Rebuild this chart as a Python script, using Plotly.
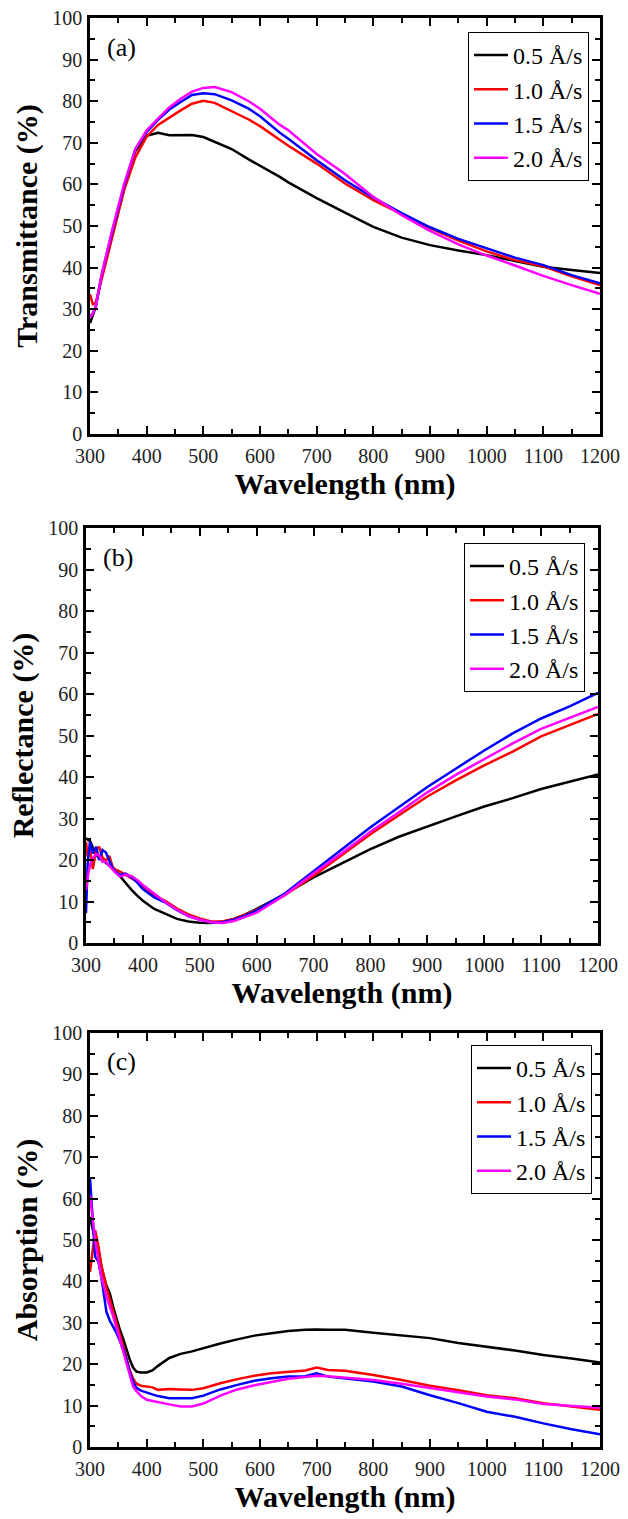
import plotly.graph_objects as go

# ---------------- data ----------------
rates = ["0.5 Å/s", "1.0 Å/s", "1.5 Å/s", "2.0 Å/s"]
colors = ["#000000", "#FF0000", "#0000FF", "#FF00FF"]

# (a) Transmittance
wl_t = [300, 305, 310, 320, 340, 360, 380, 400, 420, 440, 460, 480, 500, 520, 550,
        580, 600, 635, 650, 700, 750, 800, 850, 900, 950, 1000, 1050, 1100, 1150, 1200]
trans_05 = [26.6, 28.5, 30.5, 37.5, 49.0, 59.0, 68.0, 71.7, 72.4, 71.8, 71.8, 71.9, 71.4, 70.3, 68.5,
            66.0, 64.5, 61.8, 60.5, 56.7, 53.2, 49.8, 47.2, 45.4, 44.1, 43.0, 41.6, 40.2, 39.4, 38.7]
trans_10 = [33.6, 31.2, 31.5, 37.0, 48.0, 58.5, 66.5, 71.5, 74.3, 76.1, 77.8, 79.4, 80.1, 79.6, 77.6,
            75.6, 74.0, 70.8, 69.3, 65.0, 60.2, 56.2, 52.9, 49.5, 46.5, 43.9, 41.8, 40.3, 37.9, 35.8]
trans_15 = [28.2, 29.0, 30.5, 38.0, 49.0, 59.5, 68.5, 72.6, 75.5, 78.0, 79.8, 81.5, 81.9, 81.7, 80.2,
            78.2, 76.4, 72.4, 71.0, 65.8, 61.0, 56.8, 53.1, 49.7, 46.9, 44.6, 42.4, 40.6, 38.2, 36.2]
trans_20 = [28.0, 29.0, 30.5, 38.0, 49.5, 60.0, 68.5, 73.0, 75.8, 78.5, 80.6, 82.3, 83.2, 83.4, 82.2,
            80.0, 78.2, 74.3, 73.0, 67.3, 62.5, 57.0, 52.6, 48.8, 45.6, 42.9, 40.5, 38.0, 35.8, 33.7]

# (b) Reflectance
wl_r = [300, 303, 307, 312, 318, 323, 329, 335, 341, 347, 353, 360, 370, 380, 390, 400, 420, 440,
        460, 480, 500, 520, 540, 560, 580, 600, 650, 700, 750, 800, 850, 900, 950, 1000, 1050,
        1100, 1150, 1200]
refl_05 = [25.2, 25.0, 24.6, 23.0, 21.2, 20.6, 20.0, 19.4, 18.8, 18.0, 17.2, 16.0, 14.4, 12.8, 11.4,
           10.2, 8.2, 6.9, 5.8, 5.2, 4.9, 4.8, 5.1, 5.8, 6.9, 8.2, 11.8, 15.8, 19.2, 22.6, 25.6,
           28.1, 30.5, 32.9, 34.9, 37.1, 38.9, 40.6]
refl_10 = [24.4, 20.8, 22.8, 17.8, 22.4, 23.2, 20.6, 19.8, 21.0, 18.2, 17.6, 17.2, 16.4, 15.6, 14.8,
           13.4, 11.4, 10.1, 8.3, 6.9, 5.9, 5.2, 5.2, 5.8, 6.8, 8.0, 11.6, 16.2, 21.1, 26.2, 30.8,
           35.3, 39.2, 42.8, 46.1, 49.8, 52.5, 55.2]
refl_15 = [7.2, 19.2, 24.4, 21.6, 23.2, 20.0, 22.4, 21.8, 19.8, 18.0, 17.0, 16.4, 16.7, 15.8, 14.6,
           13.0, 11.0, 9.7, 7.9, 6.5, 5.6, 5.0, 5.0, 5.6, 6.6, 7.8, 12.0, 17.4, 22.6, 27.9, 32.8,
           37.6, 42.0, 46.4, 50.5, 54.1, 57.0, 60.3]
refl_20 = [12.8, 16.0, 18.8, 20.5, 21.4, 21.2, 19.6, 19.6, 18.6, 17.6, 16.8, 16.0, 16.5, 16.1, 15.2,
           14.0, 11.8, 9.8, 8.0, 6.5, 5.6, 5.0, 4.8, 5.3, 6.3, 7.3, 11.6, 16.8, 21.7, 26.8, 31.5,
           36.3, 40.5, 44.4, 48.1, 51.6, 54.2, 56.9]

# (c) Absorption
wl_a = [300, 305, 309, 315, 320, 329, 335, 341, 347, 353, 359, 365, 370, 376, 382, 390, 400, 410,
        420, 440, 460, 480, 500, 530, 560, 590, 620, 650, 680, 700, 720, 750, 800, 850, 900, 950,
        1000, 1050, 1100, 1150, 1200]
abs_05 = [55.6, 52.8, 50.0, 47.6, 43.5, 39.0, 37.1, 33.8, 30.7, 28.2, 25.9, 23.0, 21.2, 19.2, 18.2,
          18.0, 18.0, 18.5, 19.6, 21.5, 22.5, 23.1, 23.9, 25.0, 26.0, 26.9, 27.5, 28.0, 28.3, 28.4,
          28.3, 28.3, 27.6, 27.0, 26.3, 25.1, 24.2, 23.3, 22.2, 21.4, 20.4]
abs_10 = [42.3, 47.6, 52.4, 48.4, 44.0, 38.5, 35.5, 32.7, 29.9, 27.0, 24.3, 21.0, 18.6, 16.5, 15.3,
          14.8, 14.6, 14.4, 13.8, 14.0, 13.9, 13.8, 14.2, 15.4, 16.4, 17.2, 17.8, 18.2, 18.5, 19.2,
          18.6, 18.4, 17.4, 16.2, 14.8, 13.7, 12.5, 11.8, 10.6, 9.8, 9.0]
abs_15 = [65.0, 54.0, 46.0, 44.7, 41.0, 32.7, 30.5, 29.0, 27.5, 25.5, 23.5, 20.8, 18.2, 15.8, 14.3,
          13.6, 13.1, 12.7, 12.3, 11.8, 11.8, 11.8, 12.4, 13.9, 15.0, 16.0, 16.6, 17.0, 17.1, 17.8,
          17.0, 16.6, 15.8, 14.6, 12.5, 10.6, 8.5, 7.3, 5.7, 4.3, 3.1]
abs_20 = [60.8, 54.8, 50.0, 45.0, 41.1, 36.3, 34.0, 31.5, 28.7, 25.9, 23.0, 19.7, 17.5, 14.6, 13.5,
          12.3, 11.4, 11.1, 10.9, 10.3, 9.8, 9.8, 10.5, 12.4, 13.9, 14.9, 15.7, 16.5, 16.9, 17.2,
          17.1, 16.8, 16.2, 15.3, 14.2, 13.2, 12.2, 11.5, 10.4, 10.0, 9.5]

x_ticks = [300, 400, 500, 600, 700, 800, 900, 1000, 1100, 1200]
y_ticks = [0, 10, 20, 30, 40, 50, 60, 70, 80, 90, 100]

panels = [
    dict(wl=wl_t, series=[trans_05, trans_10, trans_15, trans_20], ytitle="Transmittance (%)", tag="(a)"),
    dict(wl=wl_r, series=[refl_05, refl_10, refl_15, refl_20], ytitle="Reflectance (%)", tag="(b)"),
    dict(wl=wl_a, series=[abs_05, abs_10, abs_15, abs_20], ytitle="Absorption (%)", tag="(c)"),
]

# ---------------- layout geometry (pixels) ----------------
W, H = 628, 1519
boxes = [  # left, right, top, bottom of each plotting area
    (90, 600, 18, 434),
    (86, 598, 528, 943),
    (90, 600, 1033, 1447),
]
legend_corner = [(589, 32), (585, 543), (592, 1045)]  # right/top of each legend box

SERIF = "Liberation Serif, Times New Roman, serif"

fig = go.Figure()
layout = dict(width=W, height=H, margin=dict(l=0, r=0, t=0, b=0, autoexpand=False),
              paper_bgcolor="white", plot_bgcolor="white",
              font=dict(family=SERIF, color="black"))

for i, p in enumerate(panels):
    n = "" if i == 0 else str(i + 1)
    legname = "legend" + n
    for name, ys, col in zip(rates, p["series"], colors):
        fig.add_trace(go.Scatter(
            x=p["wl"], y=ys, mode="lines", name=name,
            line=dict(color=col, width=2.5),
            xaxis="x" + n, yaxis="y" + n, legend=legname,
        ))
    l, r, t, b = boxes[i]
    common = dict(showline=True, linecolor="black", linewidth=2.5, mirror="allticks",
                  ticks="inside", ticklen=8, tickwidth=2, tickcolor="black",
                  showgrid=False, zeroline=False, automargin=False,
                  tickfont=dict(family=SERIF, size=20, color="#222"))
    layout["xaxis" + n] = dict(
        common, domain=[l / W, r / W], range=[300, 1200], tickvals=x_ticks,
        anchor="y" + n, ticklabelstandoff=2,
        minor=dict(ticks="inside", ticklen=5, tickwidth=2, tickcolor="black", dtick=50,
                   tick0=300, showgrid=False),
        title=dict(text="<b>Wavelength (nm)</b>", standoff=2,
                   font=dict(family=SERIF, size=30, color="black")),
    )
    layout["yaxis" + n] = dict(
        common, domain=[1 - b / H, 1 - t / H], range=[0, 100], tickvals=y_ticks,
        anchor="x" + n, ticklabelstandoff=1,
        minor=dict(ticks="inside", ticklen=5, tickwidth=2, tickcolor="black", dtick=5,
                   tick0=0, showgrid=False),
        title=dict(text="<b>" + p["ytitle"] + "</b>", standoff=6,
                   font=dict(family=SERIF, size=30, color="black")),
    )
    lx, ly = legend_corner[i]
    layout[legname] = dict(
        x=lx / W, y=1 - ly / H, xanchor="right", yanchor="top",
        bgcolor="white", bordercolor="black", borderwidth=1,
        font=dict(family=SERIF, size=24, color="black"),
        itemwidth=34, tracegroupgap=0,
    )
    fig.add_annotation(
        text=p["tag"], xref="x" + n + " domain", yref="y" + n + " domain",
        x=0.03, y=0.93, xanchor="left", yanchor="middle", showarrow=False,
        font=dict(family=SERIF, size=26, color="black"),
    )

fig.update_layout(**layout)
fig.write_html("out.html")
